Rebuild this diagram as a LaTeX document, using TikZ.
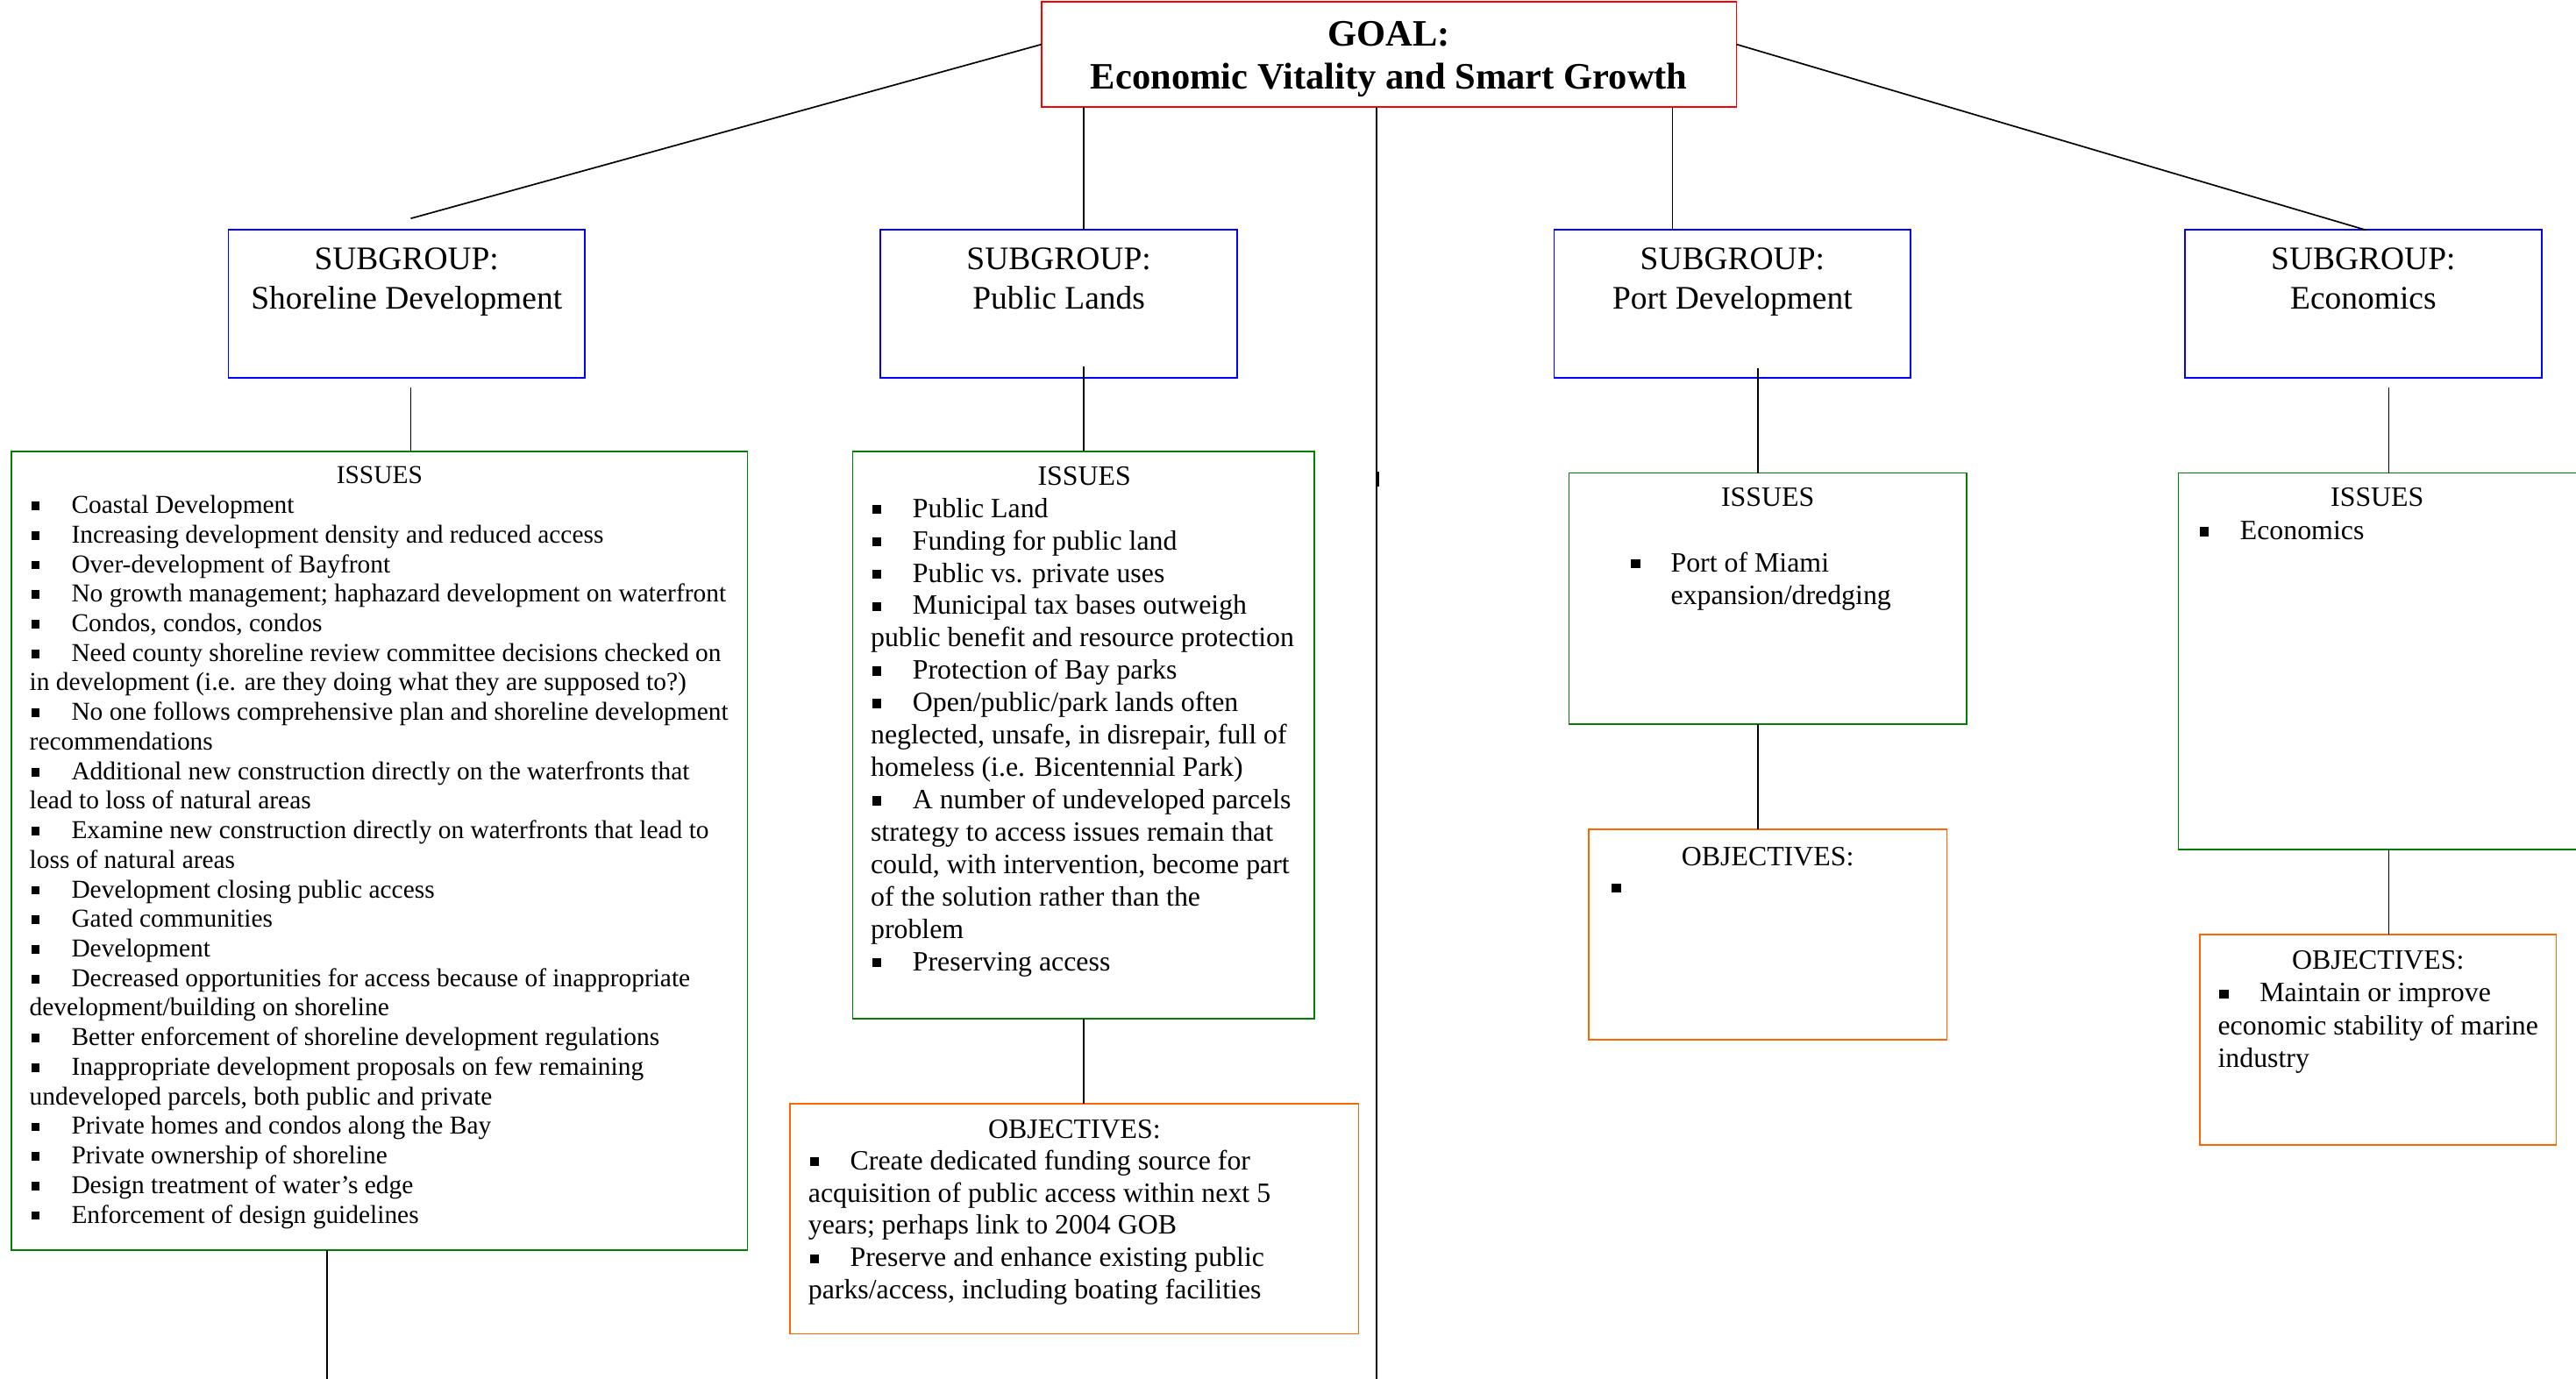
\documentclass[tikz,border=0pt]{standalone}
\usepackage{fontspec}
\setmainfont{Liberation Serif}
\usetikzlibrary{calc}

\definecolor{issuegreen}{RGB}{0,128,0}
\definecolor{objorange}{RGB}{255,102,0}

% square bullet and a bulleted paragraph whose follow-on lines return to the margin
\newcommand\sqbul{\rule[0.12em]{0.33em}{0.33em}}
\newcommand\bitem[1]{\par\noindent\makebox[25.5pt][l]{\hspace{1pt}\sqbul}#1}

% type sizes
\newcommand\fsA{\fontsize{15.7}{18}\selectfont}
\newcommand\fsB{\fontsize{17}{19.7}\selectfont}
\newcommand\fsC{\fontsize{17}{20}\selectfont}
\newcommand\fsSub{\fontsize{20}{24}\selectfont}
\newcommand\fsGoal{\fontsize{22.7}{26}\selectfont\bfseries}

\tikzset{
  frame/.style={draw, line width=0.9pt, inner sep=0pt, outer sep=0pt},
  goalbox/.style={frame, draw=red},
  subbox/.style={frame, draw=blue},
  issuebox/.style={frame, draw=issuegreen},
  objbox/.style={frame, draw=objorange},
  link/.style={line width=0.9pt, draw=black},
  txt/.style={inner sep=0pt, outer sep=0pt},
}

\begin{document}
\begin{tikzpicture}[x=1pt,y=-1pt]
\useasboundingbox (0,0) rectangle (1568,839);
\clip (0,0) rectangle (1568,839);

% ---------- boxes ----------
\node[goalbox, minimum width=423pt, minimum height=64pt] (goal) at (845.5,33) {};

\node[subbox, minimum width=217pt, minimum height=90pt] (sh) at (247.5,185) {};
\node[subbox, minimum width=217pt, minimum height=90pt] (pl) at (644.5,185) {};
\node[subbox, minimum width=217pt, minimum height=90pt] (pt) at (1054.5,185) {};
\node[subbox, minimum width=217pt, minimum height=90pt] (ec) at (1438.5,185) {};

\node[issuebox, minimum width=448pt, minimum height=486pt] (shI) at (231,518) {};
\node[issuebox, minimum width=281pt, minimum height=345pt] (plI) at (659.5,447.5) {};
\node[issuebox, minimum width=242pt, minimum height=153pt] (ptI) at (1076,364.5) {};
\node[issuebox, minimum width=244pt, minimum height=229pt] (ecI) at (1448,402.5) {};

\node[objbox, minimum width=346pt, minimum height=140pt] (plO) at (654,742) {};
\node[objbox, minimum width=218pt, minimum height=128pt] (ptO) at (1076,569) {};
\node[objbox, minimum width=217pt, minimum height=128pt] (ecO) at (1447.5,633) {};

% ---------- connectors ----------
\coordinate (spineEnd) at (838,845);
\coordinate (shEnd) at (199,845);

\draw[link] ([yshift=6pt]goal.west) -- ([xshift=2.5pt,yshift=7pt]sh.north);
\draw[link] (goal.south -| plI.north) -- (pl.north -| plI.north);
\draw[link] ([xshift=-36.5pt]pt.north |- goal.south) -- ([xshift=-36.5pt]pt.north);
\draw[link] ([yshift=6pt]goal.east) -- ([xshift=1.5pt]ec.north);
\draw[link] ([xshift=-7.5pt]goal.south) -- (spineEnd);
\draw[line width=1.3pt] (838.6,287) -- (838.6,296);

\draw[link] ([xshift=2.5pt,yshift=-6pt]sh.south) -- ([xshift=2.5pt]sh.south |- shI.north);
\draw[link] ([xshift=-32pt]shI.south) -- (shEnd);

\draw[link] ([yshift=7pt]pl.south -| plI.north) -- (plI.north);
\draw[link] (plI.south) -- (plI.south |- plO.north);

\draw[link] ([xshift=15.5pt,yshift=6pt]pt.south) -- ([xshift=15.5pt]pt.south |- ptI.north);
\draw[link] ([xshift=-6pt]ptI.south) -- ([xshift=-6pt]ptO.north);

\draw[link] ([xshift=15.5pt,yshift=-6pt]ec.south) -- ([xshift=15.5pt]ec.south |- ecI.north);
\draw[link] ([xshift=6pt]ecI.south) -- ([xshift=6.5pt]ecO.north);

% ---------- goal ----------
\node[txt, anchor=base] (goalT) at (845.5,28)
  {\fsGoal\parbox[t]{420pt}{\centering GOAL:\\Economic Vitality and Smart Growth}};

% ---------- subgroups ----------
\node[txt, anchor=base] (shN) at (247.5,164)
  {\fsSub\parbox[t]{215pt}{\centering SUBGROUP:\\Shoreline Development}};
\node[txt, anchor=base] (plN) at (644.5,164)
  {\fsSub\parbox[t]{215pt}{\centering SUBGROUP:\\Public Lands}};
\node[txt, anchor=base] (ptN) at (1054.5,164)
  {\fsSub\parbox[t]{215pt}{\centering SUBGROUP:\\Port Development}};
\node[txt, anchor=base] (ecN) at (1438.5,164)
  {\fsSub\parbox[t]{215pt}{\centering SUBGROUP:\\Economics}};

% ---------- shoreline development issues ----------
\node[txt, anchor=base] (shH) at (231,294.5) {\fsA ISSUES};
\node[txt, anchor=base west] (shT) at (18,312.5) {\fsA\parbox[t]{480pt}{\raggedright
  \bitem{Coastal Development}
  \bitem{Increasing development density and reduced access}
  \bitem{Over-development of Bayfront}
  \bitem{No growth management; haphazard development on waterfront}
  \bitem{Condos, condos, condos}
  \bitem{Need county shoreline review committee decisions checked on\\in development (i.e. are they doing what they are supposed to?)}
  \bitem{No one follows comprehensive plan and shoreline development\\recommendations}
  \bitem{Additional new construction directly on the waterfronts that\\lead to loss of natural areas}
  \bitem{Examine new construction directly on waterfronts that lead to\\loss of natural areas}
  \bitem{Development closing public access}
  \bitem{Gated communities}
  \bitem{Development}
  \bitem{Decreased opportunities for access because of inappropriate\\development/building on shoreline}
  \bitem{Better enforcement of shoreline development regulations}
  \bitem{Inappropriate development proposals on few remaining\\undeveloped parcels, both public and private}
  \bitem{Private homes and condos along the Bay}
  \bitem{Private ownership of shoreline}
  \bitem{Design treatment of water’s edge}
  \bitem{Enforcement of design guidelines}}};

% ---------- public lands ----------
\node[txt, anchor=base] (plH) at (660,295.5) {\fsB ISSUES};
\node[txt, anchor=base west] (plT) at (530,315) {\fsB\parbox[t]{330pt}{\raggedright
  \bitem{Public Land}
  \bitem{Funding for public land}
  \bitem{Public vs. private uses}
  \bitem{Municipal tax bases outweigh\\public benefit and resource protection}
  \bitem{Protection of Bay parks}
  \bitem{Open/public/park lands often\\neglected, unsafe, in disrepair, full of\\homeless (i.e. Bicentennial Park)}
  \bitem{A number of undeveloped parcels\\strategy to access issues remain that\\could, with intervention, become part\\of the solution rather than the\\problem}
  \bitem{Preserving access}}};

\node[txt, anchor=base] (plOH) at (654,693) {\fsB OBJECTIVES:};
\node[txt, anchor=base west] (plOT) at (492,712) {\fsB\parbox[t]{380pt}{\raggedright
  \bitem{Create dedicated funding source for\\acquisition of public access within next 5\\years; perhaps link to 2004 GOB}
  \bitem{Preserve and enhance existing public\\parks/access, including boating facilities}}};

% ---------- port development ----------
\node[txt, anchor=base] (ptH) at (1076,308) {\fsC ISSUES};
\node[txt, anchor=base west] (ptT) at (1017,348) {\fsC\parbox[t]{220pt}{\raggedright
  \noindent\llap{\sqbul\hspace{18.6pt}}Port of Miami\\expansion/dredging}};

\node[txt, anchor=base] (ptOH) at (1076,527) {\fsC OBJECTIVES:};
\node[txt, anchor=base west] (ptOT) at (981,545.5) {\fsC\sqbul};

% ---------- economics ----------
\node[txt, anchor=base] (ecH) at (1447,308) {\fsC ISSUES};
\node[txt, anchor=base west] (ecT) at (1338,328.5) {\fsC\parbox[t]{220pt}{\raggedright
  \bitem{Economics}}};

\node[txt, anchor=base] (ecOH) at (1447.5,590) {\fsC OBJECTIVES:};
\node[txt, anchor=base west] (ecOT) at (1350,610) {\fsC\parbox[t]{220pt}{\raggedright
  \bitem{Maintain or improve\\economic stability of marine\\industry}}};
\end{tikzpicture}
\end{document}
